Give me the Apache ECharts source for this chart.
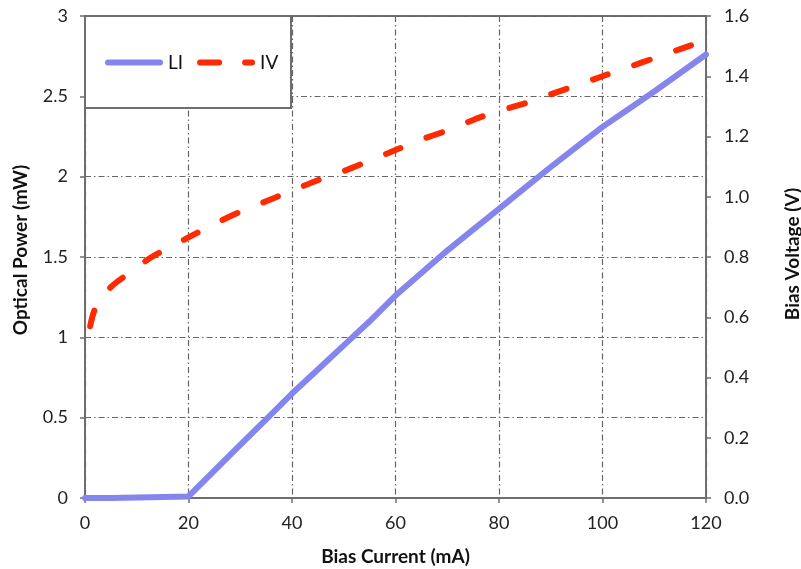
<!DOCTYPE html>
<html>
<head>
<meta charset="utf-8">
<script src="https://cdn.jsdelivr.net/npm/echarts@6/dist/echarts.min.js"></script>
<style>
html,body{margin:0;padding:0;background:#fff;overflow:hidden;}
#c{width:801px;height:569px;}
</style>
</head>
<body>
<div id="c"></div>
<script>
// Bias current (mA) and optical power (mW) for LI curve
const liCurrent = [0, 5, 10, 15, 20, 25, 30, 35, 40, 45, 50, 55, 60, 65, 70, 75, 80, 85, 90, 95, 100, 105, 110, 115, 120];
const liPower   = [0, 0, 0.003, 0.006, 0.01, 0.17, 0.33, 0.49, 0.65, 0.80, 0.95, 1.10, 1.26, 1.40, 1.54, 1.67, 1.80, 1.93, 2.06, 2.185, 2.31, 2.42, 2.53, 2.645, 2.76];
// Bias current (mA) and bias voltage (V) for IV curve
const ivCurrent = [1, 2, 5, 8, 12, 15, 20, 25, 30, 35, 40, 45, 50, 55, 60, 65, 70, 75, 80, 85, 90, 95, 100, 105, 110, 115, 120];
const ivVoltage = [0.57, 0.63, 0.70, 0.74, 0.79, 0.82, 0.865, 0.91, 0.95, 0.985, 1.02, 1.055, 1.085, 1.12, 1.155, 1.19, 1.22, 1.255, 1.285, 1.31, 1.34, 1.37, 1.40, 1.43, 1.46, 1.49, 1.52];

const seriesNames = ['LI', 'IV'];
const xTitle = 'Bias Current (mA)';
const yLeftTitle = 'Optical Power (mW)';
const yRightTitle = 'Bias Voltage (V)';

const liData = liCurrent.map((x, i) => [x, liPower[i]]);
const ivData = ivCurrent.map((x, i) => [x, ivVoltage[i]]);

const FONT = 'Lato';
const AX = '#6e6e6e';
const gridLine = {show: true, lineStyle: {color: '#666', width: 1.2, type: [6, 3, 1.5, 3]}};
const axLine = {show: true, lineStyle: {color: AX, width: 2}};
const axTick = {show: true, inside: false, length: 5, lineStyle: {color: AX, width: 1.5}};
const lbl = {color: '#222', fontFamily: FONT, fontSize: 18};
const nameSt = {color: '#111', fontFamily: FONT, fontSize: 19, fontWeight: 'bold'};

const LI_COLOR = '#8585ee';
const IV_COLOR = '#ff2a00';

const chart = echarts.init(document.getElementById('c'), null, {renderer: 'canvas'});
chart.setOption({
  animation: false,
  backgroundColor: '#fff',
  grid: {left: 85, right: 95, top: 16, bottom: 71, show: true, borderColor: AX, borderWidth: 2,
         containLabel: false, outerBoundsMode: 'none'},
  graphic: [{
    type: 'rect', z: 10, zlevel: 0,
    shape: {x: 85, y: 16, width: 206, height: 92},
    style: {fill: '#fff', stroke: AX, lineWidth: 2}
  }],
  legend: {
    z: 20,
    left: 105, top: 53,
    orient: 'horizontal',
    padding: 0,
    itemWidth: 58, itemHeight: 6, itemGap: 14,
    textStyle: {fontFamily: FONT, fontSize: 19, color: '#111'},
    data: [{
      name: seriesNames[0],
      icon: 'path://M3,0H55A3,3 0 0 1 55,6H3A3,3 0 0 1 3,0Z'
    }, {
      name: seriesNames[1],
      icon: 'path://M3,0H22A3,3 0 0 1 22,6H3A3,3 0 0 1 3,0Z M48,0H55A3,3 0 0 1 55,6H48A3,3 0 0 1 48,0Z'
    }]
  },
  xAxis: {
    type: 'value', min: 0, max: 120, interval: 20,
    name: xTitle, nameLocation: 'middle', nameGap: 49, nameTextStyle: nameSt,
    axisLine: axLine, axisTick: axTick, axisLabel: Object.assign({margin: 16}, lbl),
    splitLine: gridLine
  },
  yAxis: [{
    type: 'value', min: 0, max: 3, interval: 0.5, position: 'left',
    name: yLeftTitle, nameLocation: 'middle', nameGap: 55,
    nameTextStyle: Object.assign({padding: [0, 0, 0, 14]}, nameSt),
    axisLine: axLine, axisTick: axTick, axisLabel: Object.assign({margin: 17}, lbl),
    splitLine: gridLine
  }, {
    type: 'value', min: 0, max: 1.6, interval: 0.2, position: 'right',
    name: yRightTitle, nameLocation: 'middle', nameGap: 77, nameRotate: 90,
    nameTextStyle: Object.assign({padding: [0, 0, 0, 6]}, nameSt),
    axisLine: axLine, axisTick: axTick,
    axisLabel: Object.assign({margin: 18, formatter: v => v.toFixed(1)}, lbl),
    splitLine: {show: false}
  }],
  series: [{
    name: seriesNames[0], type: 'line', yAxisIndex: 0, data: liData,
    showSymbol: false, symbol: 'none',
    lineStyle: {color: LI_COLOR, width: 6, cap: 'round', join: 'round'},
    itemStyle: {color: LI_COLOR}
  }, {
    name: seriesNames[1], type: 'line', yAxisIndex: 1, data: ivData, smooth: 0.3,
    showSymbol: false, symbol: 'none',
    lineStyle: {color: IV_COLOR, width: 6, type: [16, 28], cap: 'round', join: 'round'},
    itemStyle: {color: IV_COLOR}
  }]
});
</script>
</body>
</html>
